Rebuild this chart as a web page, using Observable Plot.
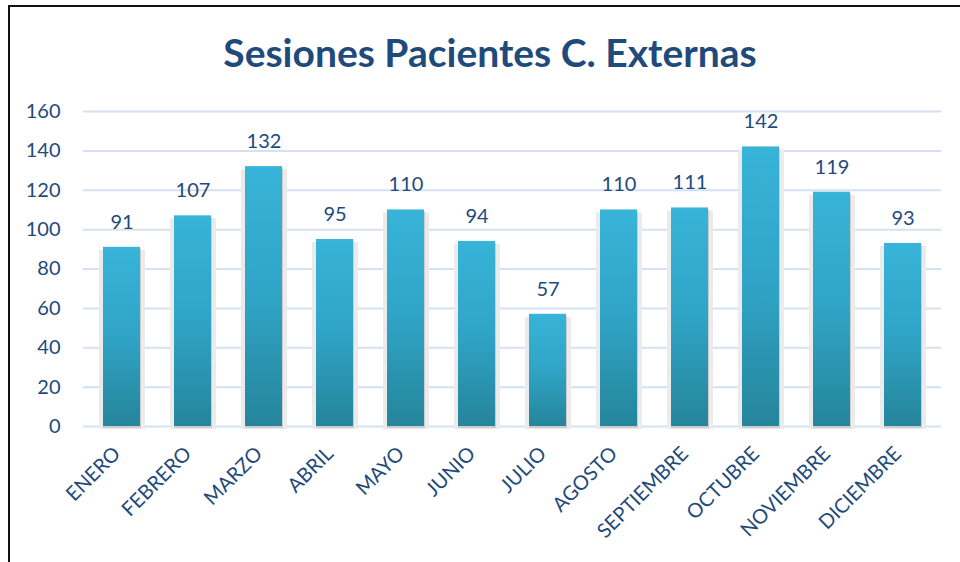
<!DOCTYPE html>
<html>
<head>
<meta charset="utf-8">
<script src="https://cdn.jsdelivr.net/npm/d3@7"></script>
<script src="https://cdn.jsdelivr.net/npm/@observablehq/plot@0.6"></script>
<style>
  html, body { margin: 0; padding: 0; background: #fff; overflow: hidden; }
  #wrap { position: relative; width: 960px; height: 562px; }
  #frame { position: absolute; left: 8px; top: 5px; width: 1000px; height: 1000px;
           border-left: 2px solid #111; border-top: 2px solid #111; box-sizing: border-box; }
  #title { position: absolute; left: 0; width: 980px; top: 28px; text-align: center;
           font-family: Lato, "Open Sans", sans-serif; font-weight: 700; font-size: 39px;
           color: #1F4A7C; line-height: 48px; }
  #chart { position: absolute; left: 0; top: 0; }
</style>
</head>
<body>
<div id="wrap">
  <div id="frame"></div>
  <div id="chart"></div>
  <div id="title">Sesiones Pacientes C. Externas</div>
</div>
<script>
const months = ["ENERO","FEBRERO","MARZO","ABRIL","MAYO","JUNIO","JULIO","AGOSTO","SEPTIEMBRE","OCTUBRE","NOVIEMBRE","DICIEMBRE"];
const sessions = [91,107,132,95,110,94,57,110,111,142,119,93];
const yTicks = [0,20,40,60,80,100,120,140,160];

const data = months.map((m, i) => ({month: m, value: sessions[i]}));
const textColor = "#1F4A7C";
const font = "Lato, 'Open Sans', sans-serif";

const defs = () => {
  const d = d3.create("svg:defs");
  const g = d.append("linearGradient").attr("id", "barGrad")
    .attr("x1", 0).attr("y1", 0).attr("x2", 0).attr("y2", 1);
  g.append("stop").attr("offset", "0%").attr("stop-color", "#37B4D8");
  g.append("stop").attr("offset", "50%").attr("stop-color", "#30A4C6");
  g.append("stop").attr("offset", "100%").attr("stop-color", "#25859B");
  return d.node();
};

const chart = Plot.plot({
  width: 960,
  height: 562,
  marginLeft: 83,
  marginRight: 19,
  marginTop: 111,
  marginBottom: 136,
  style: {fontFamily: font, background: "transparent"},
  x: {domain: months, paddingInner: 0.48, paddingOuter: 0.24, label: null},
  y: {domain: [0, 160], label: null},
  marks: [
    defs,
    Plot.ruleY(yTicks, {stroke: "#D5E1F1", strokeWidth: 2}),
    Plot.barY(data, {x: "month", y: "value", fill: "#EBEBEB", insetLeft: -4, insetRight: -5, dy: 3}),
    Plot.barY(data, {x: "month", y: "value", fill: "#B9B9B9", insetLeft: 0, insetRight: -1, dy: 2, opacity: 0.6}),
    Plot.barY(data, {x: "month", y: "value", fill: "url(#barGrad)"}),
    Plot.text(data, {x: "month", y: "value", text: d => String(d.value), dy: -25, fill: textColor, fontSize: 20, textAnchor: "middle"}),
    Plot.axisY({ticks: yTicks, tickSize: 0, tickPadding: 23, fontSize: 20, color: textColor, textAnchor: "end"}),
    Plot.axisX({tickSize: 0, tickRotate: -45, tickPadding: 20, fontSize: 20, color: textColor, dx: -5, dy: 4})
  ]
});
document.getElementById("chart").appendChild(chart);
</script>
</body>
</html>
